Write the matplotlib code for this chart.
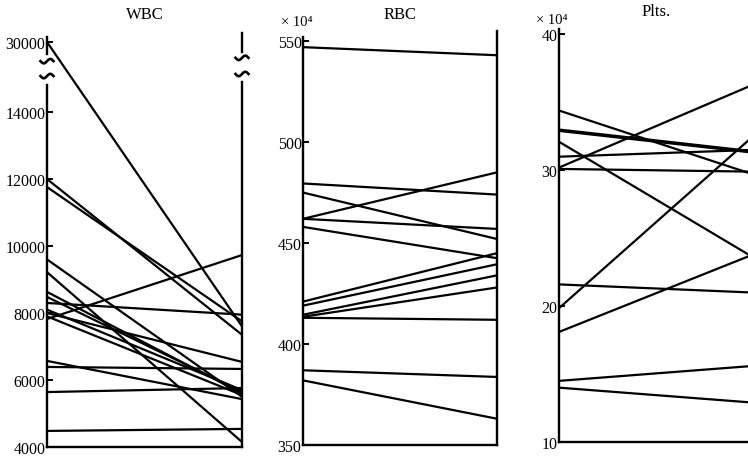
import numpy as np
import matplotlib
matplotlib.use('Agg')
import matplotlib.pyplot as plt

plt.rcParams['font.family'] = ['Liberation Serif', 'DejaVu Serif']

# WBC, before -> after
wbc_pre = [30000, 12000, 11760, 9600, 9220, 8630, 8480, 8300, 8100, 8000, 7820, 7900, 6570, 6390, 5640, 4480]
wbc_post = [7600, 7350, 7750, 5500, 4150, 5600, 5650, 7950, 5700, 6540, 9730, 5550, 5430, 6330, 5760, 4540]
wbc_ticks = [4000, 6000, 8000, 10000, 12000, 14000, 30000]

# RBC (x10^4)
rbc_pre = [547, 479.5, 475, 462, 462, 458, 421, 419, 414.5, 413.5, 413, 387, 382]
rbc_post = [543, 474, 452, 485, 457, 442.5, 445, 439.5, 434, 428, 412, 383.7, 363]
rbc_ticks = [350, 400, 450, 500, 550]

# Plts (x10^4)
plts_pre = [34.4, 33.0, 32.9, 32.1, 31.0, 30.1, 30.2, 21.6, 19.85, 18.1, 14.5, 14.0]
plts_post = [29.7, 31.4, 31.3, 23.6, 31.5, 29.9, 36.3, 21.0, 32.5, 23.8, 15.6, 12.9]
plts_ticks = [10, 20, 30, 40]

W, H = 748, 460
LW = 1.6

# 断轴: 15300以上压缩
BRK = 15300.0
K = 790.0 / 14700.0

def fwd(v):
    v = np.asarray(v, dtype=float)
    return np.where(v <= BRK, v, BRK + (v - BRK) * K)

def inv(v):
    v = np.asarray(v, dtype=float)
    return np.where(v <= BRK, v, BRK + (v - BRK) / K)

fig = plt.figure(figsize=(W / 100, H / 100), dpi=100)

def make_ax(left, bottom, right, top):
    ax = fig.add_axes([left / W, (H - bottom) / H, (right - left) / W, (bottom - top) / H])
    ax.spines['top'].set_visible(False)
    for s in ax.spines.values():
        s.set_linewidth(1.7)
    ax.set_xlim(0, 1)
    ax.set_xticks([])
    ax.tick_params(axis='y', direction='in', length=4, width=1.4, labelsize=11.5, pad=1)
    return ax

def draw_pairs(ax, pre, post):
    for a, b in zip(pre, post):
        ax.plot([0, 1], [a, b], color='black', lw=LW, solid_capstyle='butt')

def tilde(ax, x, y):
    # 断轴符号 ~
    t = np.linspace(-1, 1, 30)
    px = x * ax.bbox.width + t * 6.5
    py = y * ax.bbox.height + 2.2 * np.sin(t * np.pi)
    ax.plot(px / ax.bbox.width, py / ax.bbox.height, color='black', lw=1.9,
            transform=ax.transAxes, clip_on=False)

# ---------- WBC ----------
ax1 = make_ax(47, 448, 242, 34)
ax1.set_yscale('function', functions=(fwd, inv))
ax1.set_ylim(4000, 35000)
ax1.set_yticks(wbc_ticks)
ax1.set_yticklabels([str(t) for t in wbc_ticks])
ax1.minorticks_off()
draw_pairs(ax1, wbc_pre, wbc_post)
ax1.spines['left'].set_visible(False)
ax1.spines['right'].set_visible(False)
for x, segs in [(0, [(0, 0.874), (0.949, 0.990)]), (1, [(0, 0.882), (0.954, 1.0)])]:
    for y0, y1 in segs:
        ax1.plot([x, x], [y0, y1], color='black', lw=1.7, transform=ax1.transAxes, clip_on=False)
for x, ys in [(0, [0.932, 0.896]), (1, [0.940, 0.901])]:
    for y in ys:
        tilde(ax1, x, y)
ax1.text(0.5, 1.046, 'WBC', ha='center', va='center', fontsize=12, transform=ax1.transAxes)

# ---------- RBC ----------
ax2 = make_ax(303, 446, 497, 32)
ax2.set_ylim(350, 555)
ax2.set_yticks(rbc_ticks)
draw_pairs(ax2, rbc_pre, rbc_post)
ax2.spines['left'].set_bounds(350, 552)
ax2.text(0.5, 1.041, 'RBC', ha='center', va='center', fontsize=12, transform=ax2.transAxes)
ax2.text(-0.03, 1.024, '× 10⁴', ha='center', va='center', fontsize=10.5, transform=ax2.transAxes)

# ---------- Plts ----------
ax3 = make_ax(559, 443, 753, 30)
ax3.set_ylim(10, 40.4)
ax3.set_yticks(plts_ticks)
draw_pairs(ax3, plts_pre, plts_post)
ax3.text(0.5, 1.044, 'Plts.', ha='center', va='center', fontsize=12, transform=ax3.transAxes)
ax3.text(-0.036, 1.024, '× 10⁴', ha='center', va='center', fontsize=10.5, transform=ax3.transAxes)

fig.savefig('out.png', dpi=100)
